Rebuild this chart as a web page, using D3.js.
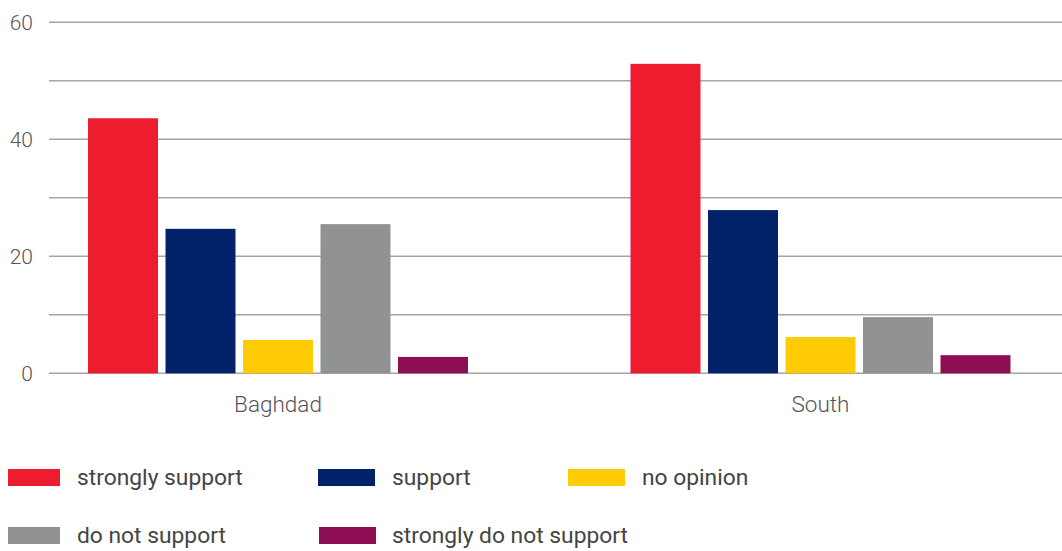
<!DOCTYPE html>
<html><head><meta charset="utf-8">
<script src="https://cdn.jsdelivr.net/npm/d3@7"></script>
<style>
html,body{margin:0;padding:0;background:#fff;}
svg{display:block;font-family:Roboto, sans-serif;}
</style></head>
<body><svg id="chart" width="1062" height="551"></svg>
<script>
const categories = ["Baghdad", "South"];
const series = ["strongly support", "support", "no opinion", "do not support", "strongly do not support"];
const colors = ["#ed1c2e", "#02236a", "#ffcb05", "#919294", "#8e0e53"];
const baghdadValues = [43.6, 24.7, 5.7, 25.5, 2.8];
const southValues = [52.9, 27.9, 6.2, 9.6, 3.1];
const yTicks = [0, 10, 20, 30, 40, 50, 60];
const yTickLabels = ["0", "", "20", "", "40", "", "60"];

const valuesByCat = [baghdadValues, southValues];
const svg = d3.select("#chart");
const gridLeft = 49, gridRight = 1062;

const y = d3.scaleLinear().domain([0, 60]).range([373.3, 22.3]);
const x0 = d3.scaleBand().domain(categories).range([6.75, 1091.75]).padding(0);
const x1 = d3.scaleBand().domain(series).range([81.25, 461.25]).paddingInner(0.097).paddingOuter(0);

// gridlines
svg.append("g").selectAll("line").data(yTicks).join("line")
  .attr("x1", gridLeft).attr("x2", gridRight)
  .attr("y1", d => y(d)).attr("y2", d => y(d))
  .attr("stroke", "#a5a5a5").attr("stroke-width", 1.5);

// y labels
svg.append("g").selectAll("text").data(yTicks).join("text")
  .attr("x", 33).attr("y", d => y(d)).attr("dy", "0.35em")
  .attr("text-anchor", "end").attr("font-size", 21).attr("font-weight", 300).attr("fill", "#555")
  .text((d, i) => yTickLabels[i]);

// bars
const groups = svg.append("g").selectAll("g").data(categories).join("g")
  .attr("transform", d => `translate(${x0(d)},0)`);
groups.selectAll("rect").data((c, ci) => series.map((s, si) => ({s, si, v: valuesByCat[ci][si]})))
  .join("rect")
  .attr("x", d => x1(d.s)).attr("width", x1.bandwidth())
  .attr("y", d => y(d.v)).attr("height", d => y(0) - y(d.v))
  .attr("fill", d => colors[d.si]);

// category labels
svg.append("g").selectAll("text").data(categories).join("text")
  .attr("x", d => x0(d) + (x1.range()[0] + x1.range()[1]) / 2)
  .attr("y", 404).attr("dy", "0.35em")
  .attr("text-anchor", "middle").attr("font-size", 22.5).attr("font-weight", 300).attr("fill", "#555")
  .text(d => d);

// legend layout
const legendLayout = [
  {sx: 8, sw: 52, tx: 77, cy: 477.5},
  {sx: 318, sw: 57, tx: 392, cy: 477.5},
  {sx: 568, sw: 57, tx: 642, cy: 477.5},
  {sx: 8, sw: 52, tx: 77, cy: 535.5},
  {sx: 319, sw: 57, tx: 392, cy: 535.5}
];
const lg = svg.append("g").selectAll("g").data(series).join("g");
lg.append("rect")
  .attr("x", (d, i) => legendLayout[i].sx).attr("y", (d, i) => legendLayout[i].cy - 8.5)
  .attr("width", (d, i) => legendLayout[i].sw).attr("height", 17)
  .attr("fill", (d, i) => colors[i]);
lg.append("text")
  .attr("x", (d, i) => legendLayout[i].tx).attr("y", (d, i) => legendLayout[i].cy).attr("dy", "0.35em")
  .attr("font-size", 22.8).attr("fill", "#444").text(d => d);
</script></body></html>
